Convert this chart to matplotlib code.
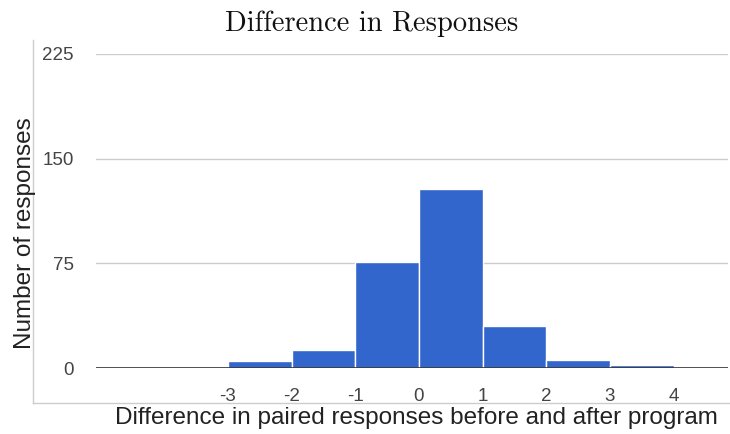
import matplotlib
matplotlib.use("Agg")
import matplotlib.pyplot as plt
from matplotlib.lines import Line2D

bin_edges = [-3, -2, -1, 0, 1, 2, 3, 4]
counts = [5, 13, 76, 128, 30, 6, 2]
x_ticks = [-3, -2, -1, 0, 1, 2, 3, 4]
x_tick_labels = ["-3", "-2", "-1", "0", "1", "2", "3", "4"]
y_ticks = [0, 75, 150, 225]

fig = plt.figure(figsize=(7.3, 4.34), dpi=100)
ax = fig.add_axes([0.1315, 0.152, 0.8655, 0.7236])

lefts = bin_edges[:-1]
widths = [b - a for a, b in zip(bin_edges[:-1], bin_edges[1:])]
ax.bar(lefts, counts, width=widths, align="edge", color="#3366cc",
       edgecolor="white", linewidth=1.0, zorder=3)

ax.set_xlim(-5.07, 4.85)
ax.set_ylim(0, 225)
ax.set_yticks(y_ticks)
ax.set_xticks(x_ticks)
ax.set_xticklabels(x_tick_labels)
for s in ax.spines.values():
    s.set_visible(False)
ax.grid(axis="y", color="#cccccc", linewidth=1.0, zorder=0)
ax.axhline(0, color="#333333", linewidth=1.2, zorder=4)
ax.tick_params(axis="both", length=0, labelsize=13.5, labelcolor="#444444",
               labelfontfamily="Liberation Sans")
ax.tick_params(axis="y", pad=16)
ax.tick_params(axis="x", pad=14.5)

fig.text(0.509, 0.946, "Difference in Responses", ha="center", va="center",
         fontsize=20.5, family="cmr10", color="#111111")
fig.text(0.034, 0.463, "Number of responses", rotation=90, ha="center",
         va="center", fontsize=17.5, family="Liberation Sans", color="#222222")
fig.text(0.571, 0.037, "Difference in paired responses before and after program",
         ha="center", va="center", fontsize=17.5, family="Liberation Sans",
         color="#222222")

# outer frame lines
fig.add_artist(Line2D([0.045, 0.045], [0.071, 0.908], transform=fig.transFigure,
                      color="#cccccc", linewidth=1.0))
fig.add_artist(Line2D([0.045, 1.0], [0.071, 0.071], transform=fig.transFigure,
                      color="#cccccc", linewidth=1.0))

fig.savefig("out.png", dpi=100)
